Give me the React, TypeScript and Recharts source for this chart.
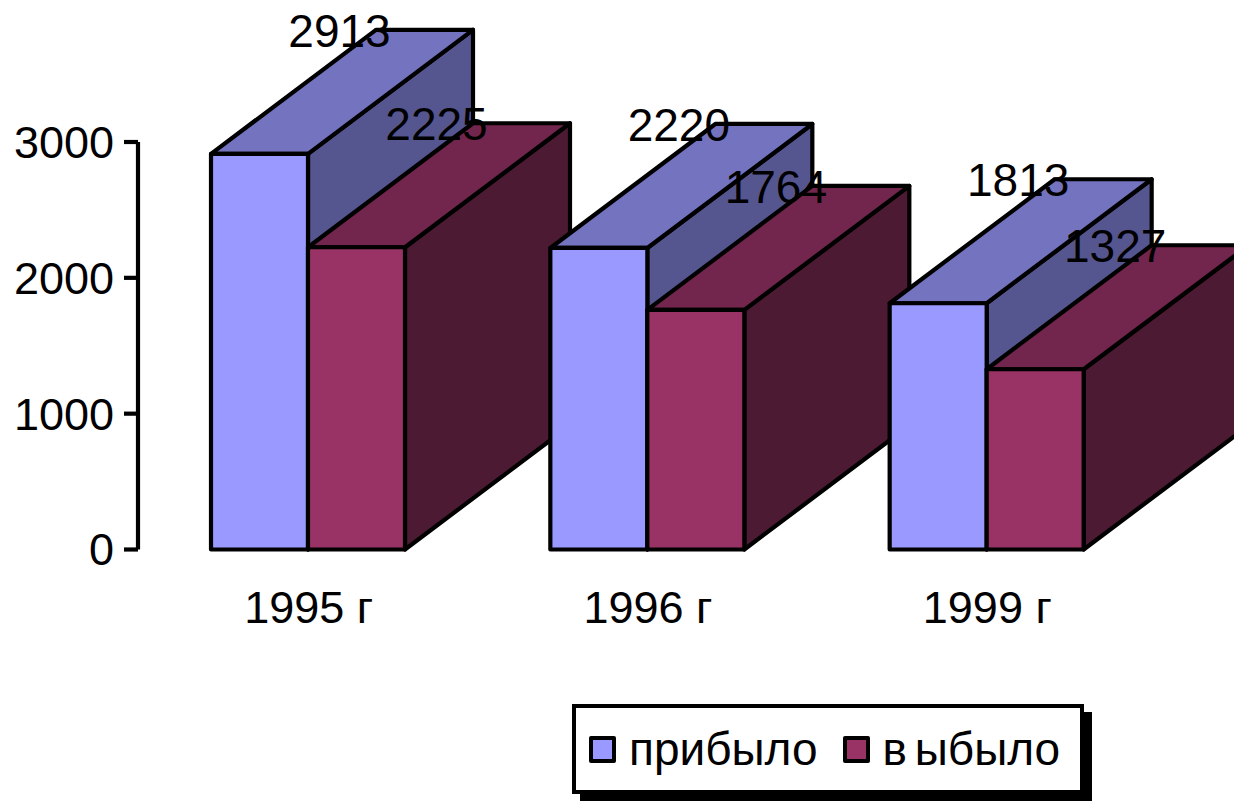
import { Bar, BarChart, LabelList, Legend, XAxis, YAxis } from "recharts";

const categories = ["1995 г", "1996 г", "1999 г"];
const arrivedValues = [2913, 2220, 1813];
const departedValues = [2225, 1764, 1327];
const yTicks = [0, 1000, 2000, 3000];

const ARRIVED_NAME = "прибыло";
const DEPARTED_NAME = "в ыбыло";

const FONT = '"Liberation Sans", Arial, sans-serif';
const DEPTH_X = 165;
const DEPTH_Y = 124;
const LINE = 4.2;

const arrivedColors = { front: "#9999ff", top: "#7373bf", side: "#55558f" };
const departedColors = { front: "#993366", top: "#73264d", side: "#4d1a33" };

// one key per category and series, so each pair of boxes can be painted
// in front of the boxes of the previous category
const rows = categories.map((name, i) => ({
  name,
  [`a${i}`]: arrivedValues[i],
  [`d${i}`]: departedValues[i],
}));

function box3d(colors: { front: string; top: string; side: string }) {
  return function Box3d(props: any) {
    const { x, y, width, height } = props;
    if (!height) return <g />;
    const r = x + width;
    const b = y + height;
    return (
      <g stroke="#000" strokeWidth={LINE} strokeLinejoin="round">
        <polygon
          fill={colors.side}
          points={`${r},${y} ${r + DEPTH_X},${y - DEPTH_Y} ${r + DEPTH_X},${b - DEPTH_Y} ${r},${b}`}
        />
        <polygon
          fill={colors.top}
          points={`${x},${y} ${x + DEPTH_X},${y - DEPTH_Y} ${r + DEPTH_X},${y - DEPTH_Y} ${r},${y}`}
        />
        <rect x={x} y={y} width={width} height={height} fill={colors.front} />
      </g>
    );
  };
}

function ValueLabel(props: any) {
  const { x, y, width, value } = props;
  if (value == null) return null;
  return (
    <text
      x={x + width / 2 + 80}
      y={y - 123}
      textAnchor="middle"
      dominantBaseline="central"
      fontSize={46}
      fontFamily={FONT}
      fill="#000"
    >
      {value}
    </text>
  );
}

function Swatch({ color }: { color: string }) {
  return (
    <span
      style={{
        display: "inline-block",
        boxSizing: "border-box",
        width: 27,
        height: 27,
        background: color,
        border: "4px solid #000",
        borderRadius: 2,
        marginRight: 13,
      }}
    />
  );
}

function LegendBox() {
  return (
    <div
      style={{
        boxSizing: "border-box",
        width: 512,
        height: 90,
        display: "flex",
        alignItems: "center",
        paddingLeft: 13,
        background: "#fff",
        border: "4px solid #000",
        boxShadow: "8px 8px 0 #000",
        fontFamily: FONT,
        fontSize: 46,
        color: "#000",
        whiteSpace: "nowrap",
      }}
    >
      <Swatch color={arrivedColors.front} />
      <span style={{ marginRight: 25 }}>{ARRIVED_NAME}</span>
      <Swatch color={departedColors.front} />
      <span style={{ wordSpacing: -5 }}>{DEPARTED_NAME}</span>
    </div>
  );
}

export default function App() {
  return (
    <div style={{ position: "absolute", left: 0, top: 0, width: 1234, height: 801, overflow: "hidden" }}>
      <BarChart
        width={1234}
        height={801}
        data={rows}
        barSize={97}
        barGap={0}
        margin={{ top: 142, right: 78, bottom: 191.5, left: 0 }}
      >
        <XAxis
          dataKey="name"
          height={60}
          axisLine={false}
          tickLine={false}
          tickSize={0}
          tickMargin={42}
          tick={{ fontSize: 45, fontFamily: FONT, fill: "#000", dx: 1 }}
          interval={0}
        />
        <YAxis
          width={138}
          domain={[0, 3000]}
          ticks={yTicks}
          axisLine={{ stroke: "#000", strokeWidth: LINE }}
          tickLine={{ stroke: "#000", strokeWidth: LINE }}
          tickSize={14}
          tickMargin={10}
          tick={{ fontSize: 45, fontFamily: FONT, fill: "#000" }}
        />
        {categories.flatMap((_, i) => [
          <Bar
            key={`a${i}`}
            dataKey={`a${i}`}
            stackId="arrived"
            shape={box3d(arrivedColors)}
            isAnimationActive={false}
          >
            <LabelList dataKey={`a${i}`} content={ValueLabel} />
          </Bar>,
          <Bar
            key={`d${i}`}
            dataKey={`d${i}`}
            stackId="departed"
            shape={box3d(departedColors)}
            isAnimationActive={false}
          >
            <LabelList dataKey={`d${i}`} content={ValueLabel} />
          </Bar>,
        ])}
        <Legend
          layout="horizontal"
          verticalAlign="middle"
          content={LegendBox}
          wrapperStyle={{ left: 572, top: 704, width: 520, height: 98 }}
        />
      </BarChart>
    </div>
  );
}
